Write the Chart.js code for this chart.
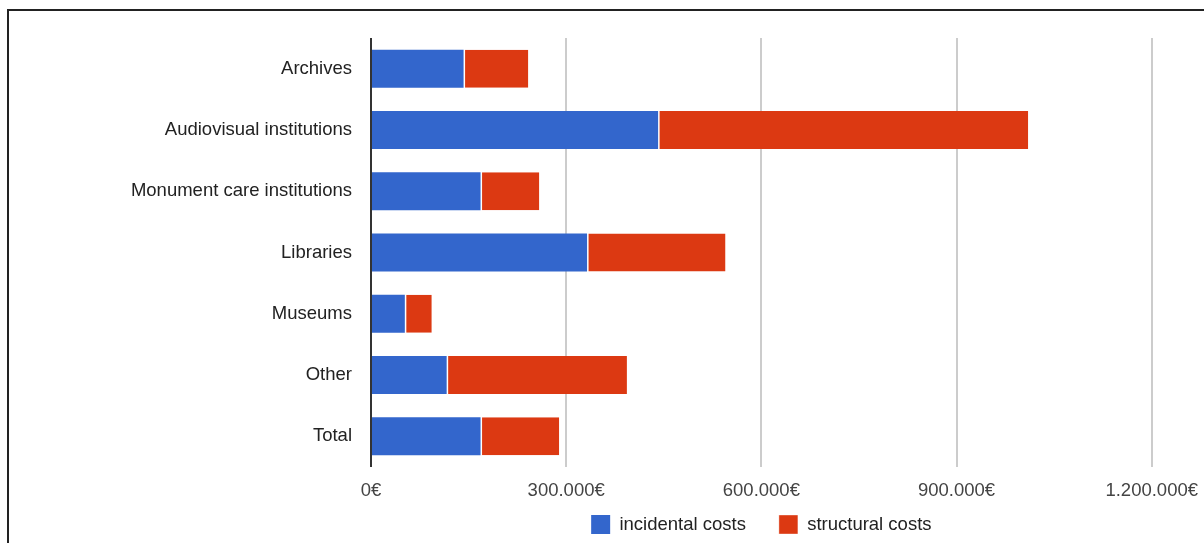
<!DOCTYPE html>
<html>
<head>
<meta charset="utf-8">
<script src="https://cdn.jsdelivr.net/npm/chart.js@4/dist/chart.umd.min.js"></script>
<style>
  html, body { margin: 0; padding: 0; background: #fff; overflow: hidden; }
  #frame { position: absolute; left: 7px; top: 9px; width: 1400px; height: 700px; border: 2px solid #222; }
  #wrap { position: absolute; left: 0; top: 0; width: 1211px; height: 543px; }
</style>
</head>
<body>
<div id="frame"></div>
<div id="wrap"><canvas id="myChart"></canvas></div>
<script>
var categories = ["Archives", "Audiovisual institutions", "Monument care institutions", "Libraries", "Museums", "Other", "Total"];
var incidental = [142300, 441300, 168400, 332100, 52000, 116300, 168400];
var structural = [99500, 568900, 90300, 212800, 41400, 277100, 120900];
var tickValues = [0, 300000, 600000, 900000, 1200000];
var tickLabels = ["0€", "300.000€", "600.000€", "900.000€", "1.200.000€"];

var font = {family: "Arial, 'Liberation Sans', sans-serif", size: 18.5};

// wide gaps between legend items come from the padding, so pull the row back up
var legendLift = {
  id: "legendLift",
  afterLayout: function (chart) {
    chart.legend.top -= 19;
  }
};

new Chart("myChart", {
  type: "bar",
  data: {
    labels: categories,
    datasets: [{
      label: "incidental costs",
      data: incidental,
      backgroundColor: "#3366cc",
      borderWidth: 0,
      categoryPercentage: 1,
      barPercentage: 0.62
    }, {
      label: "structural costs",
      data: structural,
      backgroundColor: "#dc3912",
      borderColor: "#ffffff",
      borderWidth: {left: 1.5, right: 0, top: 0, bottom: 0},
      borderSkipped: false,
      categoryPercentage: 1,
      barPercentage: 0.62
    }]
  },
  plugins: [legendLift],
  options: {
    indexAxis: "y",
    responsive: true,
    maintainAspectRatio: false,
    animation: false,
    layout: {padding: {top: 38, bottom: 0, left: 0, right: 0}},
    plugins: {
      tooltip: {enabled: false},
      legend: {
        position: "bottom",
        fullSize: false,
        maxHeight: 42,
        labels: {
          font: font,
          color: "#222",
          boxWidth: 19,
          boxHeight: 19,
          padding: 33
        }
      }
    },
    scales: {
      x: {
        stacked: true,
        min: 0,
        max: 1200000,
        afterBuildTicks: function (scale) {
          scale.ticks = tickValues.map(function (v) { return {value: v}; });
        },
        afterFit: function (scale) { scale.height = 34; },
        ticks: {
          font: font,
          color: "#444",
          padding: 13,
          maxRotation: 0,
          callback: function (value) { return tickLabels[tickValues.indexOf(value)]; }
        },
        grid: {
          drawTicks: false,
          lineWidth: 2,
          color: function (ctx) { return ctx.tick && ctx.tick.value === 0 ? "#333" : "#cccccc"; }
        },
        border: {display: false}
      },
      y: {
        stacked: true,
        afterFit: function (scale) { scale.width = 371; },
        ticks: {font: font, color: "#222", padding: 19},
        grid: {display: false, drawTicks: false},
        border: {display: false}
      }
    }
  }
});
</script>
</body>
</html>
